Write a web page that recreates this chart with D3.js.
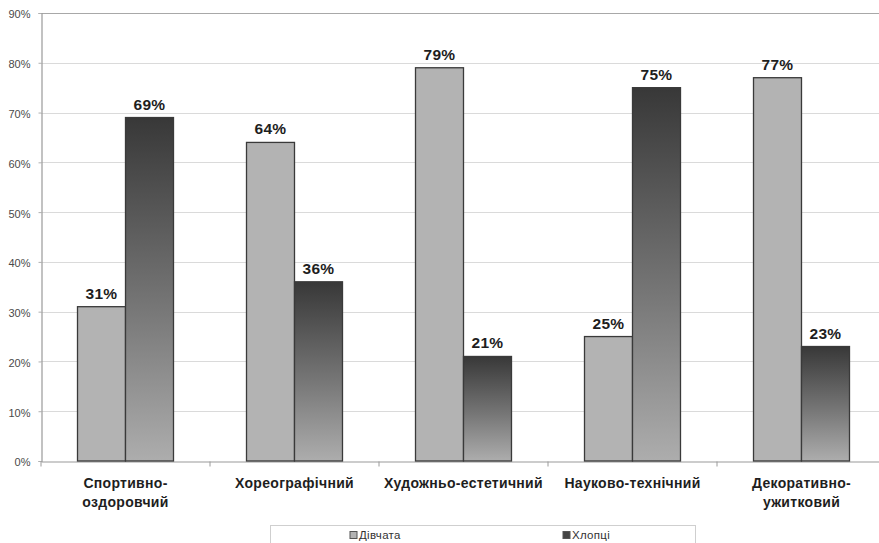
<!DOCTYPE html>
<html>
<head>
<meta charset="utf-8">
<script src="https://cdn.jsdelivr.net/npm/d3@7/dist/d3.min.js"></script>
<style>
  html, body { margin: 0; padding: 0; background: #fff; }
  svg { display: block; font-family: "Liberation Sans", Arial, sans-serif; }
</style>
</head>
<body>
<svg id="chart" width="879" height="543"></svg>
<script>
// Categories (each may wrap onto two lines)
const categories = [
  ["Спортивно-", "оздоровчий"],
  ["Хореографічний"],
  ["Художньо-естетичний"],
  ["Науково-технічний"],
  ["Декоративно-", "ужитковий"]
];
const seriesNames = ["Дівчата", "Хлопці"];
const girls = [0.31, 0.64, 0.79, 0.25, 0.77];
const boys  = [0.69, 0.36, 0.21, 0.75, 0.23];
const yTicks = [0, 0.1, 0.2, 0.3, 0.4, 0.5, 0.6, 0.7, 0.8, 0.9];

const svg = d3.select("#chart");
const plot = { left: 41, right: 886, top: 13, bottom: 461 };

const catKeys = categories.map(c => c.join(" "));
const x0 = d3.scaleBand().domain(catKeys).range([plot.left, plot.right]).padding(0);
const groupFrac = 0.568;
const x1 = d3.scaleBand().domain(seriesNames)
  .range([x0.bandwidth() * (1 - groupFrac) / 2, x0.bandwidth() * (1 + groupFrac) / 2]);
const y = d3.scaleLinear().domain([0, 0.9]).range([plot.bottom, plot.top]);

// Gradient for the boys' bars: dark at the top, light at the bottom
const defs = svg.append("defs");
const grad = defs.append("linearGradient").attr("id", "boysGrad")
  .attr("x1", 0).attr("y1", 0).attr("x2", 0).attr("y2", 1);
grad.append("stop").attr("offset", "0%").attr("stop-color", "#383838");
grad.append("stop").attr("offset", "55%").attr("stop-color", "#767676");
grad.append("stop").attr("offset", "100%").attr("stop-color", "#adadad");

// Horizontal gridlines
svg.append("g").selectAll("line")
  .data(yTicks.filter(t => t > 0))
  .join("line")
  .attr("x1", plot.left).attr("x2", 879)
  .attr("y1", d => Math.round(y(d)) + 0.5).attr("y2", d => Math.round(y(d)) + 0.5)
  .attr("stroke", d => d === 0.9 ? "#a8a8a8" : "#dadada")
  .attr("stroke-width", 1.2);

// Y axis
const yAxis = d3.axisLeft(y).tickValues(yTicks).tickFormat(d3.format(".0%")).tickSize(3).tickPadding(8);
const gy = svg.append("g").attr("transform", `translate(${plot.left + 0.5},0)`).call(yAxis);
gy.select(".domain").attr("stroke", "#9a9a9a").attr("stroke-width", 1.2);
gy.selectAll(".tick line").attr("stroke", "#b0b0b0");
gy.selectAll(".tick text").attr("fill", "#4a4a4a").attr("font-size", 11)
  .attr("dy", "0.45em")
  .attr("font-family", "'Liberation Sans', Arial, sans-serif");

// X axis baseline with ticks at category boundaries
const xAxis = d3.axisBottom(x0).tickSize(0).tickFormat("");
const gx = svg.append("g").attr("transform", `translate(0,${plot.bottom + 0.5})`).call(xAxis);
gx.select(".domain").attr("stroke", "#9a9a9a").attr("stroke-width", 1.2);
gx.selectAll(".boundary")
  .data(d3.range(catKeys.length + 1))
  .join("line")
  .attr("x1", i => plot.left + i * x0.step()).attr("x2", i => plot.left + i * x0.step())
  .attr("y1", 0).attr("y2", 5)
  .attr("stroke", "#9a9a9a");

// Bars
const rows = catKeys.map((k, i) => ({ key: k, values: [
  { s: seriesNames[0], v: girls[i] },
  { s: seriesNames[1], v: boys[i] }
]}));

const groups = svg.append("g").selectAll("g")
  .data(rows).join("g")
  .attr("transform", d => `translate(${x0(d.key)},0)`);

groups.selectAll("rect")
  .data(d => d.values).join("rect")
  .attr("x", d => x1(d.s))
  .attr("y", d => y(d.v))
  .attr("width", x1.bandwidth())
  .attr("height", d => plot.bottom - y(d.v))
  .attr("fill", d => d.s === seriesNames[0] ? "#b3b3b3" : "url(#boysGrad)")
  .attr("stroke", "#3a3a3a")
  .attr("stroke-width", 1.3);

groups.selectAll("text.val")
  .data(d => d.values).join("text")
  .attr("class", "val")
  .attr("x", d => x1(d.s) + x1.bandwidth() / 2)
  .attr("y", d => y(d.v) - 8)
  .attr("text-anchor", "middle")
  .attr("font-size", 15.5)
  .attr("font-weight", "bold")
  .attr("letter-spacing", 0.3)
  .attr("fill", "#1e1e1e")
  .text(d => d3.format(".0%")(d.v));

// Category labels
const catLabels = svg.append("g").selectAll("text")
  .data(categories).join("text")
  .attr("x", (d, i) => x0(catKeys[i]) + x0.bandwidth() / 2)
  .attr("y", 488)
  .attr("text-anchor", "middle")
  .attr("font-size", 14)
  .attr("font-weight", "bold")
  .attr("letter-spacing", 0.3)
  .attr("fill", "#1e1e1e");
catLabels.selectAll("tspan")
  .data(d => d).join("tspan")
  .attr("x", function() { return d3.select(this.parentNode).attr("x"); })
  .attr("dy", (d, i) => i === 0 ? 0 : 19)
  .text(d => d);

// Legend
const legend = svg.append("g");
legend.append("rect")
  .attr("x", 270.5).attr("y", 525.5).attr("width", 425).attr("height", 30)
  .attr("fill", "#fff").attr("stroke", "#cfcfcf");
const legendX = [350, 563];
const legendItems = legend.selectAll("g.item")
  .data(seriesNames).join("g").attr("class", "item")
  .attr("transform", (d, i) => `translate(${legendX[i]},535)`);
legendItems.append("rect")
  .attr("x", 0).attr("y", -3.5).attr("width", 7).attr("height", 7)
  .attr("fill", (d, i) => i === 0 ? "#b3b3b3" : "#444")
  .attr("stroke", "#555").attr("stroke-width", 1);
legendItems.append("text")
  .attr("x", 9).attr("y", 4)
  .attr("font-size", 11.5)
  .attr("letter-spacing", 0.3)
  .attr("fill", "#333")
  .text(d => d);
</script>
</body>
</html>
